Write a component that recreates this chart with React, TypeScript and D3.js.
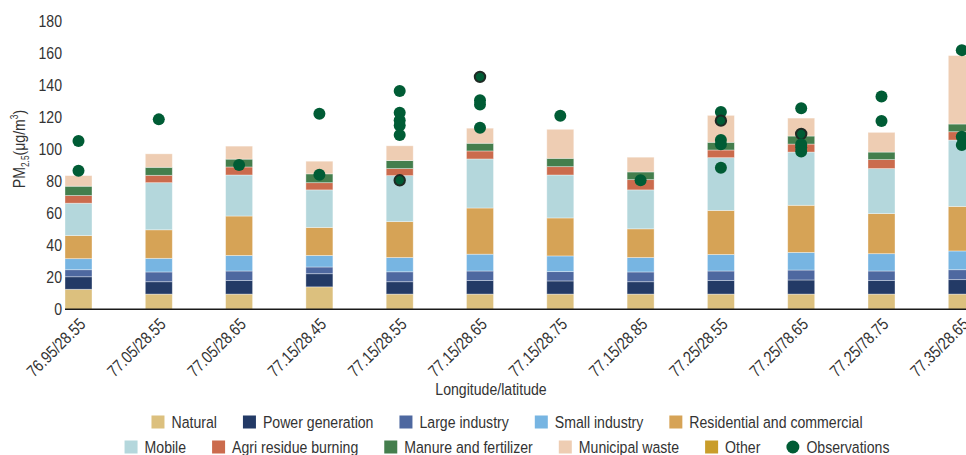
import * as d3 from 'd3';
import { useEffect, useRef } from 'react';

const sites = [
  '76.95/28.55',
  '77.05/28.55',
  '77.05/28.65',
  '77.15/28.45',
  '77.15/28.55',
  '77.15/28.65',
  '77.15/28.75',
  '77.15/28.85',
  '77.25/28.55',
  '77.25/78.65',
  '77.25/78.75',
  '77.35/28.65',
];

const sources = [
  'Natural',
  'Power generation',
  'Large industry',
  'Small industry',
  'Residential and commercial',
  'Mobile',
  'Agri residue burning',
  'Manure and fertilizer',
  'Municipal waste',
  'Other',
];

const colors = [
  '#dcc07e',
  '#233a66',
  '#4e68a0',
  '#77b5e2',
  '#d6a356',
  '#b4d7dc',
  '#cb6b4d',
  '#447e4d',
  '#eecdb3',
  '#c99d2a',
];

// one value per site, in the order of `sites`
const natural = [12.5, 9.5, 9.5, 14, 9.5, 9.5, 9.5, 9.5, 9.5, 9.5, 9.5, 9.5];
const power = [7.8, 7.7, 8.4, 8.2, 7.7, 8.4, 8.2, 7.7, 8.4, 8.8, 8.4, 9.0];
const largeIndustry = [4.4, 6.1, 6.0, 4.2, 6.2, 6.0, 5.8, 6.1, 6.0, 6.2, 6.0, 6.2];
const smallIndustry = [6.9, 8.5, 9.7, 7.2, 8.9, 10.5, 9.8, 9.0, 10.3, 11.0, 10.8, 11.7];
const residential = [14.4, 17.8, 24.6, 17.5, 22.4, 28.8, 23.7, 17.9, 27.5, 29.4, 25.0, 27.8];
const mobile = [20.2, 29.4, 25.6, 23.4, 28.7, 30.6, 26.8, 24.3, 32.9, 33.2, 28.1, 41.4];
const agri = [4.8, 4.6, 5.0, 4.5, 4.4, 5.0, 5.2, 6.4, 4.8, 5.0, 5.6, 5.2];
const manure = [5.8, 5.0, 4.9, 5.5, 5.0, 4.8, 5.2, 4.8, 4.8, 5.0, 4.7, 4.8];
const municipal = [6.6, 8.4, 8.1, 7.9, 9.2, 9.4, 18.1, 9.2, 16.8, 11.2, 12.3, 42.7];
const other = [0, 0, 0, 0, 0, 0, 0, 0, 0, 0, 0, 0];

const seriesValues = [
  natural,
  power,
  largeIndustry,
  smallIndustry,
  residential,
  mobile,
  agri,
  manure,
  municipal,
  other,
];

// observed concentrations per site; "ring" marks the overlapping points drawn with a dark outline
const observations = [
  { site: 0, value: 105 },
  { site: 0, value: 86.4 },
  { site: 1, value: 118.5 },
  { site: 2, value: 90 },
  { site: 3, value: 122 },
  { site: 3, value: 84 },
  { site: 4, value: 136.2 },
  { site: 4, value: 122.6 },
  { site: 4, value: 118 },
  { site: 4, value: 114.7 },
  { site: 4, value: 108.7 },
  { site: 4, value: 80.5, ring: true },
  { site: 5, value: 145, ring: true },
  { site: 5, value: 130.5 },
  { site: 5, value: 127.8 },
  { site: 5, value: 113.3 },
  { site: 6, value: 120.8 },
  { site: 7, value: 80.5 },
  { site: 8, value: 123.1 },
  { site: 8, value: 117.7, ring: true },
  { site: 8, value: 105.6 },
  { site: 8, value: 102.9 },
  { site: 8, value: 88.3 },
  { site: 9, value: 125.4 },
  { site: 9, value: 109.4, ring: true },
  { site: 9, value: 103 },
  { site: 9, value: 101 },
  { site: 9, value: 98.4 },
  { site: 10, value: 132.7 },
  { site: 10, value: 117.5 },
  { site: 11, value: 161.7 },
  { site: 11, value: 107.7 },
  { site: 11, value: 102.5 },
];

const yTicks = [0, 20, 40, 60, 80, 100, 120, 140, 160, 180];

const obsColor = '#005c35';
const textColor = '#333333';
const font = '"Liberation Sans", Arial, sans-serif';
const fontSize = 17;
const squeeze = 0.83; // the original uses a condensed face

const width = 966;
const height = 455;

const App = () => {
  const ref = useRef<SVGSVGElement | null>(null);

  useEffect(() => {
    if (!ref.current) return;
    const svg = d3.select(ref.current);
    svg.selectAll('*').remove();

    const barWidth = 27;
    const x = d3.scalePoint<string>().domain(sites).range([78.5, 961.8]);
    const y = d3.scaleLinear().domain([0, 180]).range([309.3, 20.8]);

    const table = sites.map((s, i) => {
      const row: { [key: string]: number | string } = { site: s };
      sources.forEach((src, j) => {
        row[src] = seriesValues[j][i];
      });
      return row;
    });

    const stack = d3.stack<{ [key: string]: number | string }>().keys(sources);
    const series = stack(table);
    const color = d3.scaleOrdinal<string>().domain(sources).range(colors);

    svg
      .append('g')
      .selectAll('g')
      .data(series)
      .join('g')
      .attr('fill', (d) => color(d.key))
      .selectAll('rect')
      .data((d) => d)
      .join('rect')
      .attr('x', (d) => x(d.data.site as string)! - barWidth / 2)
      .attr('y', (d) => y(d[1]))
      .attr('width', barWidth)
      .attr('height', (d) => Math.max(0, y(d[0]) - y(d[1])))
      .attr('stroke', '#ffffff')
      .attr('stroke-opacity', 0.45)
      .attr('stroke-width', 0.8);

    // y axis: labels only
    const yAxis = svg
      .append('g')
      .attr('transform', 'translate(62,0)')
      .call(d3.axisLeft(y).tickValues(yTicks).tickSize(0).tickPadding(0));
    yAxis.select('.domain').remove();
    yAxis
      .selectAll('text')
      .attr('font-family', font)
      .attr('font-size', fontSize)
      .attr('fill', textColor)
      .attr('transform', `scale(${squeeze},1)`);

    // x axis
    const xAxis = svg
      .append('g')
      .attr('transform', `translate(0,${y(0)})`)
      .call(d3.axisBottom(x).tickSize(0).tickPadding(0));
    xAxis.select('.domain').remove();
    xAxis
      .append('line')
      .attr('x1', 65)
      .attr('x2', width)
      .attr('stroke', '#1a1a1a')
      .attr('stroke-width', 1.5);
    xAxis
      .selectAll('.tick text')
      .attr('font-family', font)
      .attr('font-size', fontSize)
      .attr('fill', textColor)
      .attr('text-anchor', 'end')
      .attr('y', 0)
      .attr('dy', 0)
      .attr('transform', `translate(7.5,16) rotate(-45) scale(${squeeze},1)`);

    svg
      .append('text')
      .attr('transform', `translate(491,395) scale(${squeeze},1)`)
      .attr('text-anchor', 'middle')
      .attr('font-family', font)
      .attr('font-size', fontSize)
      .attr('fill', textColor)
      .text('Longitude/latitude');

    // y title
    const yTitle = svg
      .append('text')
      .attr('transform', `translate(25,149) rotate(-90) scale(${squeeze},1)`)
      .attr('text-anchor', 'middle')
      .attr('font-family', font)
      .attr('font-size', fontSize)
      .attr('fill', textColor);
    yTitle.append('tspan').text('PM');
    yTitle.append('tspan').attr('font-size', 10).attr('dy', 4).text('2.5');
    yTitle.append('tspan').attr('dy', -4).text('(μg/m');
    yTitle.append('tspan').attr('font-size', 10).attr('dy', -7).text('3');
    yTitle.append('tspan').attr('dy', 7).text(')');

    // observations
    svg
      .append('g')
      .selectAll('circle')
      .data(observations)
      .join('circle')
      .attr('cx', (d) => x(sites[d.site])!)
      .attr('cy', (d) => y(d.value))
      .attr('r', (d) => (d.ring ? 5.2 : 6))
      .attr('fill', obsColor)
      .attr('stroke', (d) => (d.ring ? '#1e2a24' : 'none'))
      .attr('stroke-width', 2);

    // legend
    const legendRows = [
      sources.slice(0, 5).map((s) => ({ label: s, color: color(s), dot: false })),
      [
        ...sources.slice(5).map((s) => ({ label: s, color: color(s), dot: false })),
        { label: 'Observations', color: obsColor, dot: true },
      ],
    ];
    const rowY = [422, 447];
    const swatch = 13;
    const gap = 7;
    const itemGap = 26;
    const centerX = 507;

    legendRows.forEach((row, ri) => {
      const g = svg.append('g');
      let cursor = 0;
      row.forEach((item) => {
        const ig = g.append('g').attr('transform', `translate(${cursor},0)`);
        if (item.dot) {
          ig.append('circle')
            .attr('cx', swatch / 2)
            .attr('cy', 0)
            .attr('r', 6.5)
            .attr('fill', item.color);
        } else {
          ig.append('rect')
            .attr('x', 0)
            .attr('y', -swatch / 2)
            .attr('width', swatch)
            .attr('height', swatch)
            .attr('fill', item.color);
        }
        const t = ig
          .append('text')
          .attr('transform', `translate(${swatch + gap},0) scale(${squeeze},1)`)
          .attr('dy', '0.35em')
          .attr('font-family', font)
          .attr('font-size', fontSize)
          .attr('fill', textColor)
          .text(item.label);
        const w = (t.node() as SVGTextElement).getComputedTextLength() * squeeze;
        cursor += swatch + gap + w + itemGap;
      });
      const total = cursor - itemGap;
      g.attr('transform', `translate(${centerX - total / 2},${rowY[ri]})`);
    });
  }, []);

  return (
    <svg
      ref={ref}
      width={width}
      height={height}
      style={{ position: 'absolute', left: 0, top: 0, background: '#fff' }}
    />
  );
};

export default App;
